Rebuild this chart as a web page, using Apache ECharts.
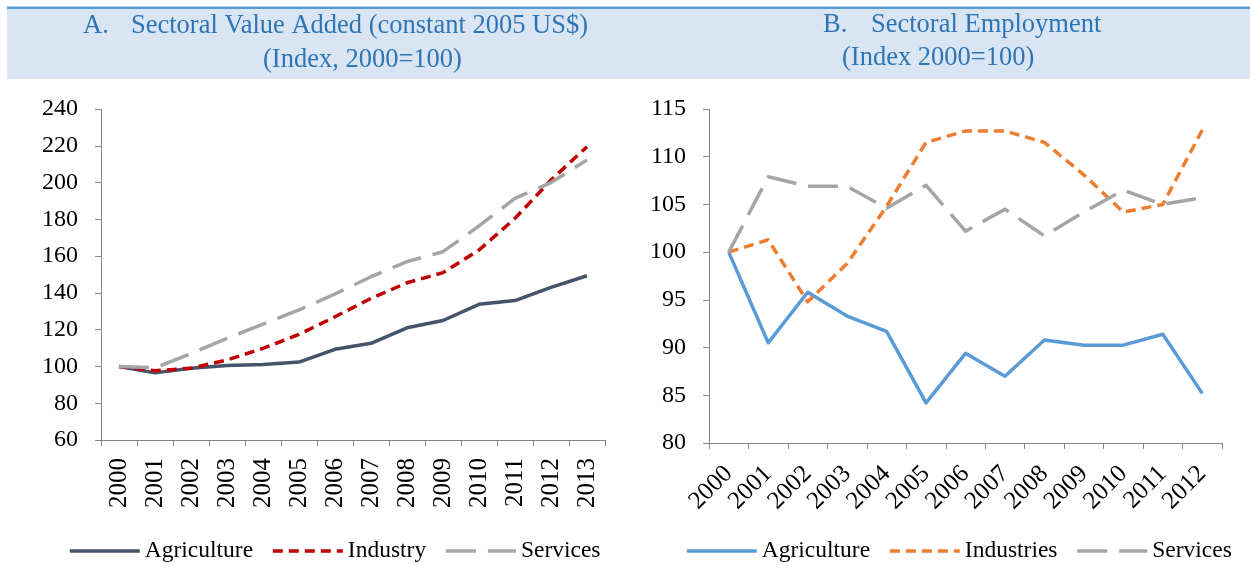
<!DOCTYPE html>
<html>
<head>
<meta charset="utf-8">
<script src="https://cdn.jsdelivr.net/npm/echarts@6/dist/echarts.min.js"></script>
<style>
  html, body { margin: 0; padding: 0; background: #fff; }
  #main { width: 1250px; height: 565px; }
</style>
</head>
<body>
<div id="main"></div>
<script>
// panel A: value added index (2000=100)
const yearsA = ['2000','2001','2002','2003','2004','2005','2006','2007','2008','2009','2010','2011','2012','2013']
const agriA = [100, 96.5, 99, 100.5, 101, 102.4, 109.3, 112.6, 121, 125, 133.8, 135.8, 143, 149.3]
const indA = [100, 97.7, 99, 103.5, 109.8, 117.4, 127, 137, 145.5, 151, 163.3, 180.5, 201.4, 219.5]
const servA = [100, 99.3, 107, 115.3, 123, 130.7, 139.4, 148.8, 157, 162.4, 176.4, 191.4, 200, 212.3]

// panel B: employment index (2000=100)
const yearsB = ['2000','2001','2002','2003','2004','2005','2006','2007','2008','2009','2010','2011','2012']
const agriB = [100, 90.5, 95.8, 93.3, 91.7, 84.2, 89.4, 87, 90.8, 90.25, 90.25, 91.4, 85.2]
const indB = [100, 101.3, 94.8, 98.8, 104.8, 111.5, 112.7, 112.7, 111.5, 108.1, 104.2, 105, 112.8]
const servB = [100, 107.9, 106.9, 106.9, 104.6, 107, 102.2, 104.5, 101.7, 104.2, 106.5, 105, 105.7]

const FONT = '"Liberation Serif", "Times New Roman", serif'
const AXIS = '#868686'
const TITLE = '#2e75b6'

function catAxis(idx, data, rotate, margin) {
  return {
    type: 'category', gridIndex: idx, data: data, boundaryGap: true,
    axisLine: { lineStyle: { color: AXIS, width: 1 } },
    axisTick: { show: true, length: 6, lineStyle: { color: AXIS } },
    axisLabel: { rotate: rotate, margin: margin, color: '#000', fontFamily: FONT, fontSize: 25, interval: 0 }
  }
}
function valAxis(idx, min, max, step) {
  return {
    type: 'value', gridIndex: idx, min: min, max: max, interval: step,
    axisLine: { show: true, lineStyle: { color: AXIS, width: 1 } },
    axisTick: { show: true, length: 6, lineStyle: { color: AXIS } },
    splitLine: { show: false },
    axisLabel: { margin: 23, color: '#000', fontFamily: FONT, fontSize: 24 }
  }
}
function line(name, idx, data, color, width, dash) {
  return {
    name: name, type: 'line', xAxisIndex: idx, yAxisIndex: idx, data: data,
    symbol: 'none', smooth: false, animation: false,
    lineStyle: { color: color, width: width, type: dash || 'solid', cap: 'butt', join: 'round' },
    itemStyle: { color: color }
  }
}
function legend(left, names) {
  return {
    left: left, top: 534, itemWidth: 70, itemHeight: 14, itemGap: 18,
    data: names, formatter: n => n.trim(),
    itemStyle: { opacity: 0 },
    lineStyle: { width: 3.5 },
    textStyle: { color: '#000', fontFamily: FONT, fontSize: 23.5 }
  }
}
function txt(x, y, s) {
  return { type: 'text', x: x, y: y, z: 10,
    style: { text: s, font: '26.5px ' + FONT, fill: TITLE, textAlign: 'left', textVerticalAlign: 'middle' } }
}

const chart = echarts.init(document.getElementById('main'))
chart.setOption({
  backgroundColor: '#fff',
  animation: false,
  graphic: [
    { type: 'rect', z: 1, shape: { x: 7, y: 9, width: 1243, height: 70 }, style: { fill: '#d9e5f2' } },
    { type: 'rect', z: 2, shape: { x: 7, y: 6.5, width: 1243, height: 2.5 }, style: { fill: '#5b9bd5' } },
    txt(83, 26, 'A.'),
    txt(131, 26, 'Sectoral Value Added (constant 2005 US$)'),
    txt(263, 60, '(Index, 2000=100)'),
    txt(823, 25, 'B.'),
    txt(871, 25, 'Sectoral Employment'),
    txt(842, 58, '(Index 2000=100)')
  ],
  grid: [
    { left: 101, top: 109, width: 504, height: 331 },
    { left: 709, top: 109, width: 513, height: 334 }
  ],
  xAxis: [catAxis(0, yearsA, 90, 18), catAxis(1, yearsB, 45, 27)],
  yAxis: [valAxis(0, 60, 240, 20), valAxis(1, 80, 115, 5)],
  legend: [
    legend(63, ['Agriculture', 'Industry', 'Services']),
    legend(680, ['Agriculture ', 'Industries', 'Services '])
  ],
  series: [
    line('Agriculture', 0, agriA, '#44546a', 3.5),
    line('Industry', 0, indA, '#c00000', 3.5, [10, 6]),
    line('Services', 0, servA, '#a5a5a5', 3.5, [30, 12]),
    line('Agriculture ', 1, agriB, '#5b9bd5', 3.5),
    line('Industries', 1, indB, '#ed7d31', 3.5, [10, 6]),
    line('Services ', 1, servB, '#a5a5a5', 3.5, [30, 12])
  ]
})
</script>
</body>
</html>
